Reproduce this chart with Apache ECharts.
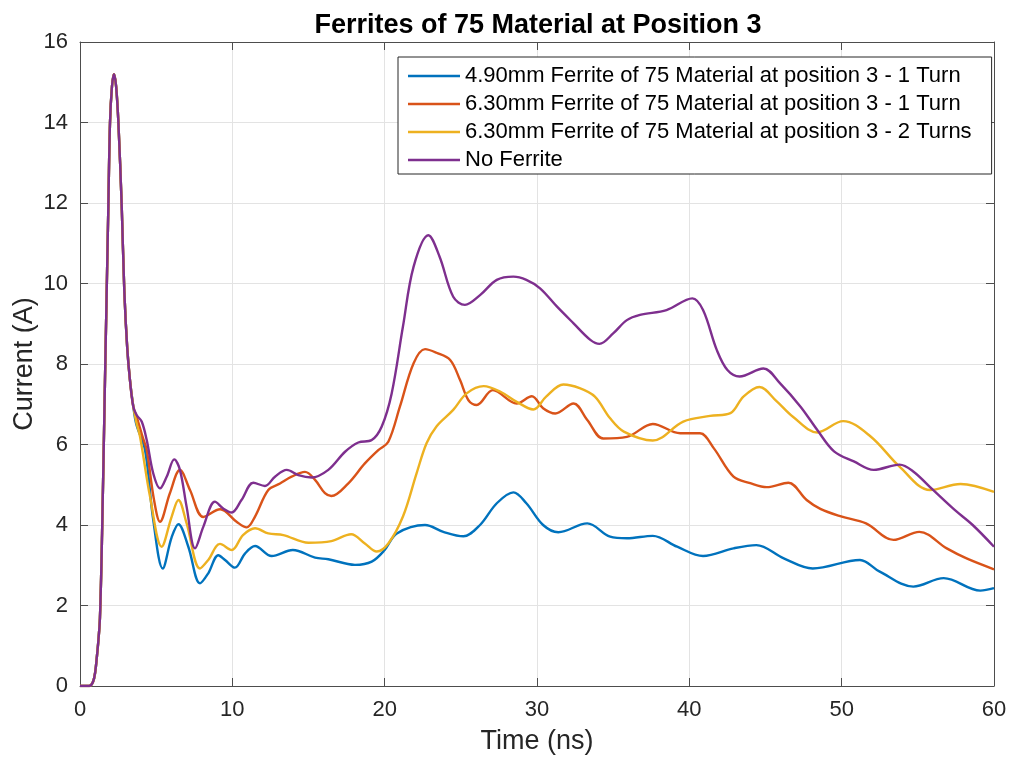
<!DOCTYPE html>
<html>
<head>
<meta charset="utf-8">
<title>Ferrites of 75 Material at Position 3</title>
<script src="https://cdn.jsdelivr.net/npm/echarts@6/dist/echarts.min.js"></script>
<style>
  html, body { margin: 0; padding: 0; background: #ffffff; }
  #chart { width: 1009px; height: 760px; }
</style>
</head>
<body>
<div id="chart"></div>
<script>
// Time axis ticks (ns) and current axis ticks (A)
const xTicks = [0, 10, 20, 30, 40, 50, 60];
const yTicks = [0, 2, 4, 6, 8, 10, 12, 14, 16];

const seriesNames = [
  '4.90mm Ferrite of 75 Material at position 3 - 1 Turn',
  '6.30mm Ferrite of 75 Material at position 3 - 1 Turn',
  '6.30mm Ferrite of 75 Material at position 3 - 2 Turns',
  'No Ferrite'
];
const seriesColors = ['#0072BD', '#D95319', '#EDB120', '#7E2F8E'];

// Initial current pulse, identical for all four measurements: [time ns, current A]
const sharedPulse = [
  [0, 0], [0.6, 0], [0.85, 0.1], [1.0, 0.35], [1.1, 0.7], [1.2, 1.1], [1.31, 1.7],
  [1.45, 3.8], [1.64, 7.6], [1.86, 11.9], [1.97, 14.0], [2.1, 14.9], [2.23, 15.2],
  [2.37, 14.9], [2.52, 14.0], [2.74, 11.9], [2.91, 9.8], [3.1, 8.4], [3.28, 7.6],
  [3.5, 6.94]
];

// 4.90mm ferrite, 1 turn
const ferrite490OneTurn = [
  [3.7, 6.5], [4.27, 5.86], [4.81, 4.12], [5.43, 2.92], [6.02, 3.7], [6.46, 4.02],
  [7.11, 3.46], [7.88, 2.55], [8.42, 2.8], [9.08, 3.25], [9.52, 3.13], [10.17, 2.94],
  [10.83, 3.29], [11.49, 3.48], [12.58, 3.23], [13.97, 3.38], [15.43, 3.19], [16.3, 3.15],
  [18.05, 3.01], [19.15, 3.09], [20.0, 3.38], [20.8, 3.79], [22.65, 4.0], [23.85, 3.83],
  [25.17, 3.72], [26.26, 4.0], [27.36, 4.54], [28.45, 4.81], [29.3, 4.54], [30.4, 4.0],
  [31.4, 3.82], [33.3, 4.04], [34.8, 3.71], [35.9, 3.67], [37.6, 3.73], [39.2, 3.46],
  [40.9, 3.23], [42.9, 3.42], [44.4, 3.5], [46.2, 3.17], [48.1, 2.92], [51.2, 3.13],
  [52.5, 2.84], [54.7, 2.47], [56.7, 2.68], [59.1, 2.37], [60, 2.43]
];

// 6.30mm ferrite, 1 turn
const ferrite630OneTurn = [
  [3.75, 6.65], [4.1, 6.2], [4.38, 5.86], [4.86, 4.62], [5.25, 4.08], [5.9, 4.79],
  [6.56, 5.37], [7.22, 4.87], [8.1, 4.2], [9.2, 4.39], [10.28, 4.08], [10.94, 3.94],
  [11.49, 4.21], [12.36, 4.87], [13.13, 5.03], [13.89, 5.2], [14.77, 5.32], [15.43, 5.12],
  [16.08, 4.79], [16.5, 4.72], [17.6, 5.03], [18.7, 5.53], [19.58, 5.86], [20.24, 6.07],
  [21.0, 6.94], [21.9, 8.02], [22.65, 8.37], [23.4, 8.28], [24.3, 8.1], [24.95, 7.6],
  [25.5, 7.1], [26.04, 6.98], [27.1, 7.35], [28.67, 7.02], [29.66, 7.2], [30.4, 6.9],
  [31.2, 6.77], [32.4, 7.02], [33.3, 6.61], [34.35, 6.15], [35.9, 6.19], [37.6, 6.51],
  [39.4, 6.28], [40.7, 6.28], [41.6, 5.91], [42.9, 5.2], [44.0, 5.04], [45.08, 4.94],
  [46.5, 5.05], [47.7, 4.62], [48.6, 4.4], [49.9, 4.22], [51.6, 4.04], [53.4, 3.63],
  [55.1, 3.83], [56.9, 3.42], [58.2, 3.17], [60, 2.9]
];

// 6.30mm ferrite, 2 turns
const ferrite630TwoTurns = [
  [3.7, 6.55], [3.94, 6.2], [4.6, 4.7], [5.36, 3.46], [6.02, 4.21], [6.46, 4.62],
  [7.0, 4.04], [7.88, 2.92], [8.42, 3.13], [9.19, 3.53], [9.96, 3.38], [10.7, 3.75],
  [11.49, 3.92], [12.36, 3.79], [13.35, 3.75], [15.0, 3.56], [16.5, 3.6], [17.8, 3.77],
  [18.7, 3.54], [19.48, 3.34], [20.24, 3.54], [21.2, 4.21], [22.1, 5.29], [22.75, 6.03],
  [23.4, 6.45], [24.5, 6.86], [25.38, 7.27], [26.5, 7.45], [27.6, 7.31], [28.67, 7.06],
  [29.76, 6.87], [30.6, 7.19], [31.73, 7.49], [32.8, 7.4], [33.8, 7.19], [34.8, 6.65],
  [35.7, 6.32], [37.6, 6.1], [39.6, 6.57], [41.36, 6.71], [42.7, 6.78], [43.55, 7.19],
  [44.6, 7.43], [45.74, 7.07], [46.8, 6.69], [48.4, 6.3], [50.1, 6.58], [51.9, 6.2],
  [53.8, 5.45], [55.8, 4.87], [57.8, 5.02], [60, 4.82]
];

// No ferrite fitted
const noFerrite = [
  [3.72, 6.73], [4.05, 6.57], [4.38, 6.11], [4.81, 5.28], [5.25, 4.91], [5.69, 5.2],
  [6.19, 5.63], [6.56, 5.37], [7.0, 4.45], [7.55, 3.42], [8.1, 3.96], [8.86, 4.58],
  [9.4, 4.41], [9.96, 4.31], [10.6, 4.62], [11.38, 5.05], [12.14, 4.97], [12.8, 5.2],
  [13.57, 5.37], [14.33, 5.24], [15.2, 5.18], [16.3, 5.37], [17.4, 5.82], [18.27, 6.05],
  [19.15, 6.11], [19.8, 6.44], [20.46, 7.27], [21.2, 8.93], [21.9, 10.42], [22.87, 11.2],
  [23.6, 10.67], [24.5, 9.67], [25.27, 9.47], [26.26, 9.71], [27.36, 10.09], [28.45, 10.17],
  [29.3, 10.09], [30.2, 9.88], [31.3, 9.43], [32.4, 9.01], [33.5, 8.6], [34.1, 8.5],
  [35.0, 8.76], [35.9, 9.09], [36.76, 9.22], [38.5, 9.34], [40.2, 9.63], [40.9, 9.34],
  [41.8, 8.35], [42.5, 7.85], [43.3, 7.69], [44.86, 7.89], [45.96, 7.52], [47.3, 6.94],
  [48.4, 6.36], [49.5, 5.83], [50.8, 5.58], [52.1, 5.37], [53.8, 5.5], [54.7, 5.33],
  [56.0, 4.87], [57.4, 4.38], [58.6, 4.0], [60, 3.46]
];

const seriesData = [ferrite490OneTurn, ferrite630OneTurn, ferrite630TwoTurns, noFerrite];

const FONT = '"Liberation Sans", Arial, Helvetica, sans-serif';
const AXIS_COLOR = '#4d4d4d';
const TEXT_COLOR = '#262626';
const GRID_COLOR = '#e3e3e3';

const xMin = xTicks[0], xMax = xTicks[xTicks.length - 1];
const yMin = yTicks[0], yMax = yTicks[yTicks.length - 1];
const xStep = xTicks[1] - xTicks[0];
const yStep = yTicks[1] - yTicks[0];

// A value axis drawn as one side of the closed plot box, ticks pointing inwards
function boxAxis(base, extra) {
  return Object.assign({
    type: 'value',
    min: base.min, max: base.max, interval: base.interval,
    axisLine: { show: true, onZero: false, lineStyle: { color: AXIS_COLOR, width: 1 } },
    axisTick: { show: true, inside: true, length: 8, lineStyle: { color: AXIS_COLOR } },
    axisLabel: { show: false },
    splitLine: { show: false }
  }, extra);
}

const chart = echarts.init(document.getElementById('chart'), null, { renderer: 'canvas' });

chart.setOption({
  backgroundColor: '#ffffff',
  animation: false,
  title: {
    text: 'Ferrites of 75 Material at Position 3',
    left: 533, top: 7, textAlign: 'center',
    textStyle: { fontFamily: FONT, fontSize: 27, fontWeight: 'bold', color: '#000000' }
  },
  legend: {
    orient: 'vertical',
    left: 398, top: 57,
    padding: [8, 20, 3, 10],
    itemGap: 6,
    itemWidth: 52,
    itemHeight: 2.5,
    icon: 'rect',
    backgroundColor: '#ffffff',
    borderColor: '#262626',
    borderWidth: 1,
    borderRadius: 0,
    textStyle: { fontFamily: FONT, fontSize: 22, color: '#000000' },
    data: seriesNames
  },
  grid: {
    left: 80, right: 15, top: 42, bottom: 74,
    containLabel: false, outerBoundsMode: 'none'
  },
  xAxis: [
    boxAxis({ min: xMin, max: xMax, interval: xStep }, {
      position: 'bottom',
      name: 'Time (ns)', nameLocation: 'middle', nameGap: 42, nameMoveOverlap: false,
      nameTextStyle: { fontFamily: FONT, fontSize: 27, color: TEXT_COLOR },
      axisLabel: {
        show: true, margin: 13, fontFamily: FONT, fontSize: 22, color: TEXT_COLOR,
        customValues: xTicks
      },
      splitLine: { show: true, lineStyle: { color: GRID_COLOR, width: 1 } }
    }),
    boxAxis({ min: xMin, max: xMax, interval: xStep }, { position: 'top' })
  ],
  yAxis: [
    boxAxis({ min: yMin, max: yMax, interval: yStep }, {
      position: 'left',
      name: 'Current (A)', nameLocation: 'middle', nameGap: 42, nameRotate: 90,
      nameMoveOverlap: false,
      nameTextStyle: { fontFamily: FONT, fontSize: 27, color: TEXT_COLOR },
      axisLabel: {
        show: true, margin: 12, fontFamily: FONT, fontSize: 22, color: TEXT_COLOR,
        customValues: yTicks
      },
      splitLine: { show: true, lineStyle: { color: GRID_COLOR, width: 1 } }
    }),
    boxAxis({ min: yMin, max: yMax, interval: yStep }, { position: 'right' })
  ],
  series: seriesNames.map((name, i) => ({
    name: name,
    type: 'line',
    xAxisIndex: 0,
    yAxisIndex: 0,
    data: sharedPulse.concat(seriesData[i]),
    smooth: 0.35,
    showSymbol: false,
    symbol: 'none',
    lineStyle: { color: seriesColors[i], width: 2.4 },
    itemStyle: { color: seriesColors[i] },
    z: 2 + i
  }))
});
</script>
</body>
</html>
